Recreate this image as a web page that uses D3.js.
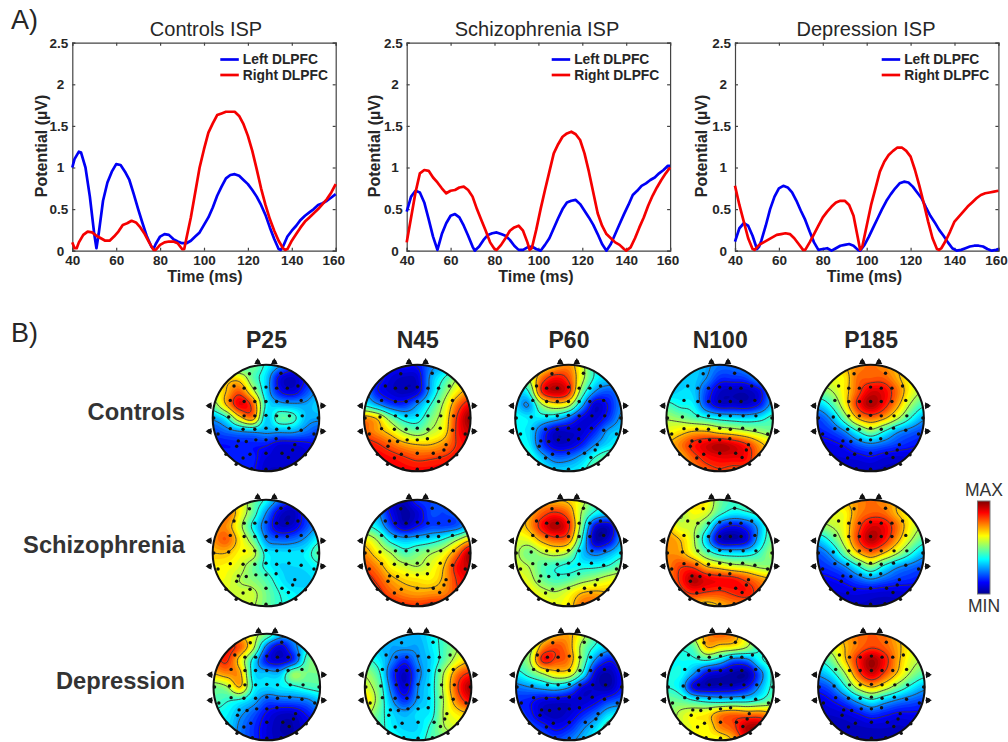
<!DOCTYPE html>
<html>
<head>
<meta charset="utf-8">
<title>ISP and TEP topographies</title>
<script src="https://cdn.jsdelivr.net/npm/d3@7"></script>
<style>
  body { margin: 0; background: #fff; }
  text { font-family: "Liberation Sans", Arial, sans-serif; }
</style>
</head>
<body>
<div id="figure"></div>
<script>
// Part I.

// Panel A: [time (ms), potential (uV)]
var controlsLeft = [[40,1.0],[41,1.1],[43,1.19],[44,1.18],[46,1.0],[48,.65],[50,.2],[51,.03],[52,.2],[54,.6],[56,.82],[58,.95],[60,1.04],[62,1.03],[64,.95],[66,.85],[68,.68],[70,.5],[72,.33],[74,.17],[76,.05],[77,.02],[78,.08],[80,.17],[82,.2],[84,.19],[86,.14],[88,.11],[90,.09],[92,.09],[94,.12],[96,.17],[98,.22],[100,.31],[102,.4],[104,.52],[106,.66],[108,.77],[110,.87],[112,.91],[114,.92],[116,.9],[118,.85],[120,.8],[122,.73],[124,.65],[126,.55],[128,.43],[130,.28],[132,.14],[134,.02],[135,.01],[136,.05],[138,.17],[140,.24],[142,.3],[144,.37],[146,.42],[148,.46],[150,.5],[152,.55],[154,.57],[156,.6],[158,.64],[160,.68]];
var controlsRight = [[40,.1],[41,.03],[42,.03],[43,.1],[45,.19],[47,.23],[49,.22],[51,.18],[53,.15],[55,.12],[57,.12],[59,.17],[61,.23],[63,.31],[65,.33],[67,.36],[69,.34],[71,.28],[73,.2],[75,.1],[77,.01],[78,.01],[80,.07],[82,.1],[84,.11],[86,.11],[88,.09],[90,.02],[91,.02],[92,.15],[94,.4],[96,.7],[98,1.0],[100,1.22],[102,1.42],[104,1.53],[106,1.63],[108,1.65],[110,1.67],[112,1.67],[114,1.67],[116,1.62],[118,1.52],[120,1.38],[122,1.2],[124,.98],[126,.75],[128,.55],[130,.38],[132,.24],[134,.12],[136,.03],[137,.01],[138,.02],[140,.12],[142,.2],[144,.28],[146,.35],[148,.4],[150,.45],[152,.5],[154,.56],[156,.62],[158,.7],[160,.8]];
var schizLeft = [[40,.47],[42,.65],[44,.72],[46,.7],[48,.58],[50,.38],[52,.17],[54,.01],[56,.2],[58,.33],[60,.42],[62,.44],[64,.4],[66,.3],[68,.18],[70,.05],[71,0],[73,.05],[75,.13],[77,.19],[79,.21],[81,.22],[83,.2],[85,.18],[87,.13],[89,.06],[91,.01],[93,.01],[95,.04],[97,.05],[99,.02],[101,0],[103,.07],[105,.15],[107,.27],[109,.39],[111,.5],[113,.58],[115,.6],[117,.61],[119,.56],[121,.48],[123,.4],[125,.31],[127,.2],[129,.08],[131,0],[133,.08],[135,.2],[137,.32],[139,.44],[141,.55],[143,.67],[145,.72],[147,.78],[149,.81],[151,.85],[153,.88],[155,.93],[157,.97],[159,1.02],[160,1.02]];
var schizRight = [[40,.1],[42,.4],[44,.7],[46,.93],[48,.97],[50,.96],[52,.88],[54,.82],[56,.75],[58,.69],[60,.72],[62,.73],[64,.76],[66,.77],[68,.73],[70,.65],[72,.5],[74,.37],[76,.24],[78,.1],[80,.02],[81,.01],[83,.07],[85,.15],[87,.24],[89,.28],[91,.3],[93,.24],[95,.1],[96,.01],[97,.03],[99,.25],[101,.5],[103,.73],[105,.95],[107,1.17],[109,1.28],[111,1.37],[113,1.41],[115,1.43],[117,1.4],[119,1.33],[121,1.17],[123,.95],[125,.7],[127,.45],[129,.3],[131,.2],[133,.15],[135,.1],[137,.07],[139,.02],[140,0],[142,.04],[144,.15],[146,.28],[148,.4],[150,.54],[152,.66],[154,.76],[156,.85],[158,.93],[160,1.0]];
var deprLeft = [[40,.11],[42,.27],[44,.33],[46,.3],[48,.18],[50,.02],[51,.05],[52,.12],[54,.3],[56,.5],[58,.65],[60,.75],[62,.78],[64,.76],[66,.7],[68,.6],[70,.48],[72,.37],[74,.23],[76,.1],[78,.01],[80,.02],[82,.03],[84,0],[86,.03],[88,.06],[90,.07],[92,.08],[94,.06],[96,.01],[97,0],[99,.07],[101,.17],[103,.28],[105,.39],[107,.5],[109,.6],[111,.68],[113,.75],[115,.81],[117,.83],[119,.82],[121,.77],[123,.7],[125,.63],[127,.52],[129,.42],[131,.34],[133,.25],[135,.18],[137,.1],[139,.03],[141,0],[143,.01],[145,.03],[147,.05],[149,.06],[151,.06],[153,.05],[155,.02],[157,0],[159,.01],[160,.02]];
var deprRight = [[40,.78],[42,.55],[44,.35],[46,.15],[48,.02],[49,.01],[51,.07],[53,.1],[55,.13],[57,.16],[59,.19],[61,.2],[63,.21],[65,.2],[67,.15],[69,.08],[71,.01],[72,.01],[74,.1],[76,.2],[78,.3],[80,.4],[82,.47],[84,.53],[86,.58],[88,.6],[90,.6],[92,.55],[94,.42],[96,.15],[97,.01],[98,.05],[100,.3],[102,.55],[104,.75],[106,.95],[108,1.07],[110,1.15],[112,1.2],[114,1.24],[116,1.24],[118,1.2],[120,1.13],[122,.97],[124,.78],[126,.57],[128,.35],[130,.15],[132,.02],[133,.01],[134,.03],[136,.12],[138,.23],[140,.35],[142,.41],[144,.47],[146,.53],[148,.58],[150,.63],[152,.67],[154,.69],[156,.7],[158,.71],[160,.72]];

var xTicks = [40, 60, 80, 100, 120, 140, 160];
var yTicks = [0, 0.5, 1, 1.5, 2, 2.5];
var legendLabels = ["Left DLPFC", "Right DLPFC"];

// Panel B: 9x9 grids over the head (top row first), 0 = MIN, 10 = MAX
var controlsP25 = [[4,4,4,5,4,3,2,2,2],[6,6.5,6.5,4.8,3.5,1.2,.7,1.5,2],[6,7,8,6,3.5,1.5,1,2,3],[5,7,9,8,4,3.2,3,3,3.5],[3,4,6.5,7.5,3.5,4.7,4.5,3.2,3],[2,2.4,2.8,3,3,3,3,2.5,2],[1.5,1.5,1.6,1.6,1.5,1,1,1.2,1.5],[2,1.8,1.7,1.6,1,.9,.8,.9,1],[2,2,1.8,1.5,.8,.7,.7,.8,1]];
var controlsN45 = [[2,2,1.5,1.5,1.5,2.5,3,3.5,4],[2.5,1.8,1,.7,.9,3,4.2,5.5,6.5],[3,1.5,.9,.6,1,3.2,5,6.5,7.5],[4,3,2,1.8,2.8,4.2,5.8,7.8,9],[7.5,6.8,5,3.8,3.8,5,6.2,8.5,10],[8,7.4,6.6,5.5,5,5.7,6.5,8.6,9.5],[8.8,8.5,7.9,7.3,7,7,7.5,8.5,9],[9,9,8.8,8.5,8.2,8.3,8.5,8.8,9],[9,9,9,8.9,8.9,8.9,9,9,9]];
var controlsP60 = [[4,5,6,7,7.5,6,4,3.5,3.5],[4,5.5,7.8,8.8,8.2,6,4,3.5,3.5],[3.5,4.2,8.5,9.5,8.7,5,2.8,2.2,2.8],[3.4,2.8,5.5,6.5,6,3.2,.9,1.5,2.7],[4,3.7,3.7,3.4,2.5,1.2,.9,1.8,3],[3.8,3.6,2.1,.8,.8,.9,1.7,3,3.4],[4,3.8,2,.9,.9,1.6,2.8,3.6,4],[5,4.5,3.3,2.4,2.5,3.2,4.3,5,5],[5,5,4,3.5,3.6,4,5,5.5,5.5]];
var controlsN100 = [[4,4,3.5,3,2.5,2.5,3,3.5,3.5],[3.5,3.5,3.4,2.8,1.8,1.8,2,3,3.5],[3.2,3.5,3.4,2,.8,.6,.6,1.2,3],[4.5,4,3.8,2,.9,.9,.8,1.5,3.2],[5.5,5.2,4.7,4.2,3.8,3.6,3.5,3.8,4.5],[6.2,6.6,7,7,6.5,6.2,5.8,5.4,5],[7,7.6,8.6,9.2,9.6,9.2,8.5,7.3,6.5],[6.5,7,8,8.7,9,9,8.8,7.5,6.5],[6.5,7,7.5,8,8.3,8,8,7,6.5]];
var controlsP185 = [[6,6.5,7,7.5,7.8,7.5,7,6.5,6],[6,6.2,6.5,7.8,8,8,7.2,6.3,6],[5,5.5,6.5,8,9.2,9,7.8,6.3,5.5],[3.3,4.3,6.2,8.5,9.7,8.8,7.3,5.5,4.4],[2,2.9,4.8,7,7.8,7.2,5.8,4.2,3],[1.6,1.9,2.7,4.1,5.2,4.2,3,2.4,2],[1.1,1.2,1.5,2.2,2.6,2.3,1.9,1.6,1.4],[.8,.9,1,1.1,1.3,1,.9,1,1],[.6,.6,.7,.7,.7,.7,.7,.7,.7]];

var schizP25 = [[7,7,6.5,5,4,2.5,1.5,1.5,2],[8,8,6.5,4.8,2.8,1,.6,1.8,2.5],[7.5,7.5,6,4,2.2,.8,.9,2,3],[7.5,8,6.6,5,2.8,2.3,2.4,3,4],[7,7,6.4,6,3.9,3.6,3.6,3.8,4.8],[6.5,6.4,6,5,4,3.5,3.5,3.6,4],[6.3,6.2,5.6,5.2,4.6,3.8,3.3,3.4,3.6],[6,6,5.9,5.8,5,4.2,3.8,3.6,3.6],[6,6,6,5.7,5,4.3,4,3.8,3.8]];
var schizN45 = [[3,2.5,1,.6,1.8,2,2.2,3,3.5],[3.5,3,1.3,.4,.9,2,2,2.3,3],[4.5,3.7,2,.8,1.4,2,2,2.3,3.5],[6.5,5.5,3.8,3.2,3.4,3.7,4.3,5.5,6.8],[7.5,6.5,5.6,4.6,5,5.5,6.2,7.8,9.8],[8.2,7.5,6.4,5.9,5.6,6.1,7,8.8,9.5],[8.8,8.2,7.3,6.8,6.6,6.5,7.2,8.5,9.2],[9,8.7,8,7.5,7.3,7.4,7.6,8.4,9],[9,9,8.8,8.5,8.4,8.6,8.8,9,9]];
var schizP60 = [[6,6.5,7,7,6.8,6,4.5,4.5,4],[6,7,8,8.5,7.8,5.5,4,3.5,3.5],[6.5,7.2,8.8,9.7,8.6,5,1.2,.8,2.8],[6,6.2,7.3,8,7.6,4.2,.6,1,3],[5.8,5,5.6,6,5.5,3.4,2.5,3,3.8],[6,5.6,4.7,4.3,4,4,4,4.3,5],[6.2,6,5,4.5,4.7,5.2,5.6,6.1,6.3],[6.5,6.5,6,5.7,6.2,7,7.2,7,6.8],[6.5,6.5,6.3,6.2,6.6,7.8,8,7.5,7]];
var schizN100 = [[7,7,7,6.5,5,4.5,5,5.5,5.5],[6.5,5.6,6.3,6,4.5,3.8,4,4.5,5],[7,6,5.8,4.5,2,1.3,1.8,3.2,5],[7.5,7,5.8,3.4,.8,.5,1.1,3.4,5],[7.5,7.3,6.2,4.8,3.8,3.6,3.7,4.4,5.5],[7.5,8.3,8.2,7,6.5,6,5.8,5.4,5.3],[7.5,8.5,9.6,9.1,8.9,8.8,8.2,7.5,7],[7.5,8,8.5,8.3,8.2,8.5,8.7,8,7],[7.5,7.5,7,6.5,7,7.5,7.5,7.5,7]];
var schizP185 = [[6,6.5,7,7.5,7.8,7.5,7,6.5,6],[6,6.2,6.3,7.5,8,7.9,7,6.3,6],[5.2,5.6,6.3,8,9.2,9,7.8,6.3,5.5],[3.4,4.4,6,8.2,9.6,8.8,7.3,5.7,4.6],[2.2,3,4.8,6.8,7.8,7,5.7,4.3,3.2],[1.7,2,2.7,4,5.2,4,3,2.5,2.1],[1.2,1.3,1.6,2.2,2.7,2.3,1.9,1.7,1.5],[.8,.9,1,1.1,1,.9,.9,1,1],[.6,.6,.7,.7,.7,.7,.7,.7,.7]];

var deprP25 = [[8,8,7,6,5,3.5,3,3,3],[8,8.6,8,5.8,2.4,1,2.4,3.8,4.5],[8,8.5,6.5,3.8,1.4,.9,1.8,4.6,5.5],[7,7.5,7.2,3.7,3.3,3.3,5.3,5,5],[5,5.5,7,4,3.5,3.7,4,4.4,4.6],[4.7,4.3,4,3.2,2.2,2.3,2.4,2.6,3.3],[4,3.8,3,2.2,1.3,.8,.8,1.5,2.2],[3.8,3.6,2.6,1.8,1,.5,.5,1,1.4],[3.7,3.4,2.6,1.8,1,.6,.6,1,1.2]];
var deprN45 = [[3.5,3.3,3,3,3.2,3.8,4.6,5,5],[3.5,3.3,3,3,3,3.7,4.6,5.5,6],[4.5,3.8,2.7,1.7,2.8,3.5,4.8,6.2,7],[5.5,4.5,2,.7,2.5,3.7,5.8,7.8,8.6],[6,5,2.4,.9,2.8,3.8,6,8.4,9.8],[6.8,5.2,3,1.8,3,3.8,5.8,7.8,9],[6,4.8,3.6,3.1,3.6,3.9,5.8,6.6,7],[5,4.6,3.8,3.4,3.5,4.4,5.6,6,6],[4.6,4.4,4.2,3.8,3.8,4.6,5,5.5,5.5]];
var deprP60 = [[5,5.5,6,7,7.2,6,4.5,3.5,3.5],[5,5.2,7.5,8.2,7.4,5.2,4,3.2,3],[4.8,5.5,8.6,8.2,7.6,5,2.6,1.5,2.2],[3.8,4.6,5.6,6.5,6.3,4,1,.5,1.5],[2.5,2.8,3.2,3.5,2.9,1.2,.7,.5,1.5],[1.8,1.6,1.1,1,.9,.8,1.2,1.9,2.3],[2,1.6,.8,.6,.9,1.6,2.4,3.5,3.7],[2.2,2.1,1.7,1.2,1.6,2.6,3.5,4.7,5],[2.4,2.4,2.2,2,2.5,3.2,4,5.3,5.5]];
var deprN100 = [[5,5.5,6,7.5,8,7.5,6,5,4.5],[4,4.3,4.8,7,6.6,6.4,5.6,4.2,4],[3.8,4,4,4.2,3.5,2.3,2.5,4,4.5],[4,4,2.8,1.2,.8,.4,.4,2.4,4.5],[4.2,3.6,1.1,.6,.7,.8,1.4,3,4.5],[5,4.8,4.2,3.8,3.6,3.7,3.8,4.3,5],[5,5.8,6.3,6.5,7.5,7.8,7.6,7.6,7],[5,5.8,6.3,6.4,7.6,8.2,9.6,9.6,8],[5,5.6,6.2,6.3,6.2,7.2,9,9,8]];
var deprP185 = [[6,6.5,7.2,7.8,8,7.8,7,6.5,6],[5.6,6,7,7.8,8.3,8,7.2,6.3,5.8],[4.2,5,6.8,8.6,9.8,8.8,7.2,6,5.5],[3,3.8,5.5,8,9.3,8.2,6.8,5.4,4.6],[1.8,2.4,4,6,7,6.2,5,3.9,3.1],[1,1.4,2.1,3.2,4,3.3,2.7,2.3,2],[.8,.8,1,1.4,1.9,1.6,1.3,1.3,1.3],[.5,.6,.6,.7,.8,.8,.7,.8,.9],[.4,.4,.5,.5,.5,.5,.6,.6,.7]];

var componentNames = ["P25", "N45", "P60", "N100", "P185"];
var groupNames = ["Controls", "Schizophrenia", "Depression"];

// electrode positions in head units (-1..1)
var electrodeX = [-.31,.28, -.6,-.41,-.21,0,.2,.4,.6, -.67,-.41,-.21,0,.2,.4,.66, -.98,-.7,-.41,-.21,0,.2,.44,.68,.98, -.67,-.43,-.21,0,.2,.43,.66, -.9,-.52,-.37,-.19,0,.19,.54,.9, -.55,-.3,0,.3,.5,.74,-.43,.42, -.75,-.27,0,.27,-.56,.56];
var electrodeY = [-.83,-.84, -.6,-.56,-.56,-.58,-.56,-.56,-.6, -.33,-.31,-.31,-.31,-.31,-.31,-.33, 0,-.02,-.04,-.04,-.05,-.04,-.04,-.04,0, .2,.21,.21,.19,.21,.19,.23, .3,.43,.44,.41,.41,.39,.5,.3, .53,.68,.66,.66,.6,.69,.75,.74, .68,.95,.96,.95,.87,.87];
// reference electrodes around the head: [x, y, angle of the little triangle]
var outerMarks = [[-.156,-1.05,0],[.156,-1.05,0],[-1.06,-.23,-90],[1.06,-.23,90],[-1.06,.25,-90],[1.06,.25,90]];

var mapThresholds = d3.range(0, 10.01, 0.25);
var lineLevels = [1.4, 2.8, 4.2, 5.6, 7, 8.4];

// Part II. Page

var svg = d3.select("#figure").append("svg")
    .attr("width", 1008)
    .attr("height", 742)
    .style("display", "block");

var textColor = "#262626";

svg.append("text").attr("x", 11).attr("y", 29).attr("font-size", "27px").attr("fill", textColor).text("A)");
svg.append("text").attr("x", 11).attr("y", 342).attr("font-size", "27px").attr("fill", textColor).text("B)");

// Part III. Line panels

var panelTop = 42.7, panelBottom = 250.7, panelWidth = 263.4;

function linePanel(left, title, pos, leftData, rightData) {
    var xScale = d3.scaleLinear().domain([40, 160]).range([left, left + panelWidth]);
    var yScale = d3.scaleLinear().domain([0, 2.5]).range([panelBottom, panelTop]);
    var g = svg.append("g");

    g.append("g").attr("class", "xTicks").attr("transform", "translate(0," + panelBottom + ")")
        .call(d3.axisBottom(xScale).tickValues(xTicks).tickSize(-3).tickPadding(5));
    g.append("g").attr("class", "yTicks").attr("transform", "translate(" + left + ",0)")
        .call(d3.axisLeft(yScale).tickValues(yTicks).tickSize(-3).tickPadding(4).tickFormat(d => d));
    g.append("g").attr("transform", "translate(0," + panelTop + ")")
        .call(d3.axisTop(xScale).tickValues(xTicks).tickSize(-3).tickFormat(""));
    g.append("g").attr("transform", "translate(" + (left + panelWidth) + ",0)")
        .call(d3.axisRight(yScale).tickValues(yTicks).tickSize(-3).tickFormat(""));

    g.selectAll(".domain").attr("stroke", "#444").attr("stroke-width", 1.2);
    g.selectAll(".tick line").attr("stroke", "#444").attr("stroke-width", 1.2);
    g.selectAll(".tick text")
        .attr("font-family", "Liberation Sans")
        .attr("font-size", "13.5px")
        .attr("font-weight", "bold")
        .attr("fill", textColor);
    // keep the last label inside the page
    g.selectAll(".xTicks .tick text").filter(d => d == 160).attr("dx", "-2.5");
    // whole numbers sit further from the axis than the decimals
    g.selectAll(".yTicks .tick text").filter(d => d % 1 == 0).attr("dx", "-4");

    var line = d3.line().x(d => xScale(d[0])).y(d => yScale(d[1]));
    var traces = g.append("g").style("filter", "blur(0.3px)");
    traces.append("path").attr("d", line(leftData)).attr("fill", "none").attr("stroke", "#0000f5").attr("stroke-width", 2.7).attr("stroke-linejoin", "round");
    traces.append("path").attr("d", line(rightData)).attr("fill", "none").attr("stroke", "#f50000").attr("stroke-width", 2.7).attr("stroke-linejoin", "round");

    // title and axis labels
    g.append("text")
        .attr("x", pos.title).attr("y", 35.5)
        .attr("text-anchor", "middle")
        .attr("font-size", "20px")
        .attr("fill", textColor)
        .text(title);
    g.append("text")
        .attr("x", pos.time).attr("y", 282)
        .attr("text-anchor", "middle")
        .attr("font-size", "16px")
        .attr("font-weight", "bold")
        .attr("fill", textColor)
        .text("Time (ms)");
    g.append("text")
        .attr("transform", "translate(" + pos.potential + ",146)rotate(270)")
        .attr("text-anchor", "middle")
        .attr("font-size", "16px")
        .attr("font-weight", "bold")
        .attr("fill", textColor)
        .text("Potential (µV)");

    // legend
    var legendColors = ["#0000f5", "#f50000"];
    legendLabels.forEach(function(label, i) {
        var ly = 59.5 + i * 15.5;
        g.append("line")
            .attr("x1", pos.legend).attr("x2", pos.legend + 18.5)
            .attr("y1", ly).attr("y2", ly)
            .attr("stroke", legendColors[i]).attr("stroke-width", 2.7);
        g.append("text")
            .attr("x", pos.legend + 22.5).attr("y", ly + 4.5)
            .attr("font-size", "13.8px")
            .attr("font-weight", "bold")
            .attr("fill", textColor)
            .text(label);
    });
}

linePanel(72.3, "Controls ISP", {title: 206, time: 205, potential: 47, legend: 220.3}, controlsLeft, controlsRight);
linePanel(406.7, "Schizophrenia ISP", {title: 537, time: 536, potential: 380, legend: 551.7}, schizLeft, schizRight);
linePanel(735, "Depression ISP", {title: 866, time: 864.5, potential: 706.7, legend: 881.7}, deprLeft, deprRight);

// Part IV. Head maps

// MATLAB jet
var jet = d3.scaleLinear()
    .domain([0, 1.25, 3.75, 6.25, 8.75, 10])
    .range(["#00008f", "#0000ff", "#00ffff", "#ffff00", "#ff0000", "#800000"]);

// Catmull-Rom upsampling so that the contours come out smooth
function upsample(grid, factor) {
    var n = grid.length;
    var m = (n - 1) * factor + 1;
    var values = new Array(m * m);
    function at(r, c) {
        return grid[Math.max(0, Math.min(n - 1, r))][Math.max(0, Math.min(n - 1, c))];
    }
    function cr(a, b, c, d, t) {
        return 0.5 * (2 * b + (c - a) * t + (2 * a - 5 * b + 4 * c - d) * t * t + (3 * b - a - 3 * c + d) * t * t * t);
    }
    for (var i = 0; i < m; i++) {
        var rf = i / factor, r0 = Math.min(n - 2, Math.floor(rf)), rt = rf - r0;
        for (var j = 0; j < m; j++) {
            var cf = j / factor, c0 = Math.min(n - 2, Math.floor(cf)), ct = cf - c0;
            var rows = [-1, 0, 1, 2].map(dr => cr(at(r0 + dr, c0 - 1), at(r0 + dr, c0), at(r0 + dr, c0 + 1), at(r0 + dr, c0 + 2), ct));
            values[i * m + j] = cr(rows[0], rows[1], rows[2], rows[3], rt);
        }
    }
    return {values: values, size: m};
}

var clipCount = 0;

function headMap(cx, cy, grid) {
    var r = 53.3;
    var hx = d3.scaleLinear().domain([-1, 1]).range([cx - r, cx + r]);
    var hy = d3.scaleLinear().domain([-1, 1]).range([cy - r, cy + r]);
    var g = svg.append("g").style("filter", "blur(0.35px)");
    var clipId = "head" + (clipCount++);

    g.append("clipPath").attr("id", clipId)
        .append("circle").attr("cx", cx).attr("cy", cy).attr("r", r);

    var fine = upsample(grid, 8);
    var m = fine.size;
    var toHead = d3.scaleLinear().domain([0.5, m - 0.5]).range([-1, 1]);
    var path = d3.geoPath(d3.geoTransform({
        point: function(x, y) { this.stream.point(hx(toHead(x)), hy(toHead(y))); }
    }));

    var maps = g.append("g").attr("clip-path", "url(#" + clipId + ")");
    maps.append("circle").attr("cx", cx).attr("cy", cy).attr("r", r).attr("fill", jet(0));

    maps.selectAll(".band")
        .data(d3.contours().size([m, m]).thresholds(mapThresholds)(fine.values))
        .enter()
        .append("path")
        .attr("class", "band")
        .attr("d", path)
        .attr("fill", d => jet(d.value));

    maps.selectAll(".level")
        .data(d3.contours().size([m, m]).thresholds(lineLevels)(fine.values))
        .enter()
        .append("path")
        .attr("class", "level")
        .attr("d", path)
        .attr("fill", "none")
        .attr("stroke", "#3c3c3c")
        .attr("stroke-width", 0.9);

    // outer marks go under the outline
    outerMarks.forEach(function(d) {
        g.append("path")
            .attr("d", d3.symbol().type(d3.symbolTriangle).size(20)())
            .attr("transform", "translate(" + hx(d[0]) + "," + hy(d[1]) + ")rotate(" + d[2] + ")")
            .attr("fill", "#111");
        g.append("circle").attr("cx", hx(d[0])).attr("cy", hy(d[1])).attr("r", 2.3).attr("fill", "#111");
    });

    g.append("circle").attr("cx", cx).attr("cy", cy).attr("r", r)
        .attr("fill", "none").attr("stroke", "#111").attr("stroke-width", 2);

    g.selectAll(".electrode")
        .data(electrodeX)
        .enter()
        .append("circle")
        .attr("class", "electrode")
        .attr("cx", d => hx(d))
        .attr("cy", (d, i) => hy(electrodeY[i]))
        .attr("r", 1.7)
        .attr("fill", "#111");
}

var columnX = [266, 417.3, 568.5, 719.7, 870.6];
var rowY = [418, 553, 687];
var mapRows = [
    [controlsP25, controlsN45, controlsP60, controlsN100, controlsP185],
    [schizP25, schizN45, schizP60, schizN100, schizP185],
    [deprP25, deprN45, deprP60, deprN100, deprP185]
];

mapRows.forEach(function(row, i) {
    row.forEach(function(grid, j) {
        headMap(columnX[j] + (i == 2 ? 0.8 : 0), rowY[i], grid);
    });
});

componentNames.forEach(function(name, j) {
    svg.append("text")
        .attr("x", columnX[j] + 0.5).attr("y", 348)
        .attr("text-anchor", "middle")
        .attr("font-size", "23px")
        .attr("font-weight", "bold")
        .attr("fill", textColor)
        .text(name);
});

var groupY = [420, 553, 689];
groupNames.forEach(function(name, i) {
    svg.append("text")
        .attr("x", 185).attr("y", groupY[i])
        .attr("text-anchor", "end")
        .attr("font-size", "23.7px")
        .attr("font-weight", "bold")
        .attr("fill", "#333")
        .text(name);
});

// Part V. Colour bar

var barScale = d3.scaleLinear().domain([0, 10]).range([594, 501]);
var defs = svg.append("defs");
var grad = defs.append("linearGradient").attr("id", "jetBar")
    .attr("x1", 0).attr("x2", 0).attr("y1", 1).attr("y2", 0);
grad.selectAll("stop")
    .data(jet.domain())
    .enter()
    .append("stop")
    .attr("offset", d => d / 10)
    .attr("stop-color", d => jet(d));

svg.append("rect")
    .attr("x", 977.5).attr("width", 12.5)
    .attr("y", barScale(10)).attr("height", barScale(0) - barScale(10))
    .attr("fill", "url(#jetBar)")
    .attr("stroke", "#777").attr("stroke-width", 1);

svg.append("text").attr("x", 984).attr("y", 496).attr("text-anchor", "middle").attr("font-size", "17.5px").attr("fill", "#333").text("MAX");
svg.append("text").attr("x", 984).attr("y", 612).attr("text-anchor", "middle").attr("font-size", "17.5px").attr("fill", "#333").text("MIN");
</script>
</body>
</html>
